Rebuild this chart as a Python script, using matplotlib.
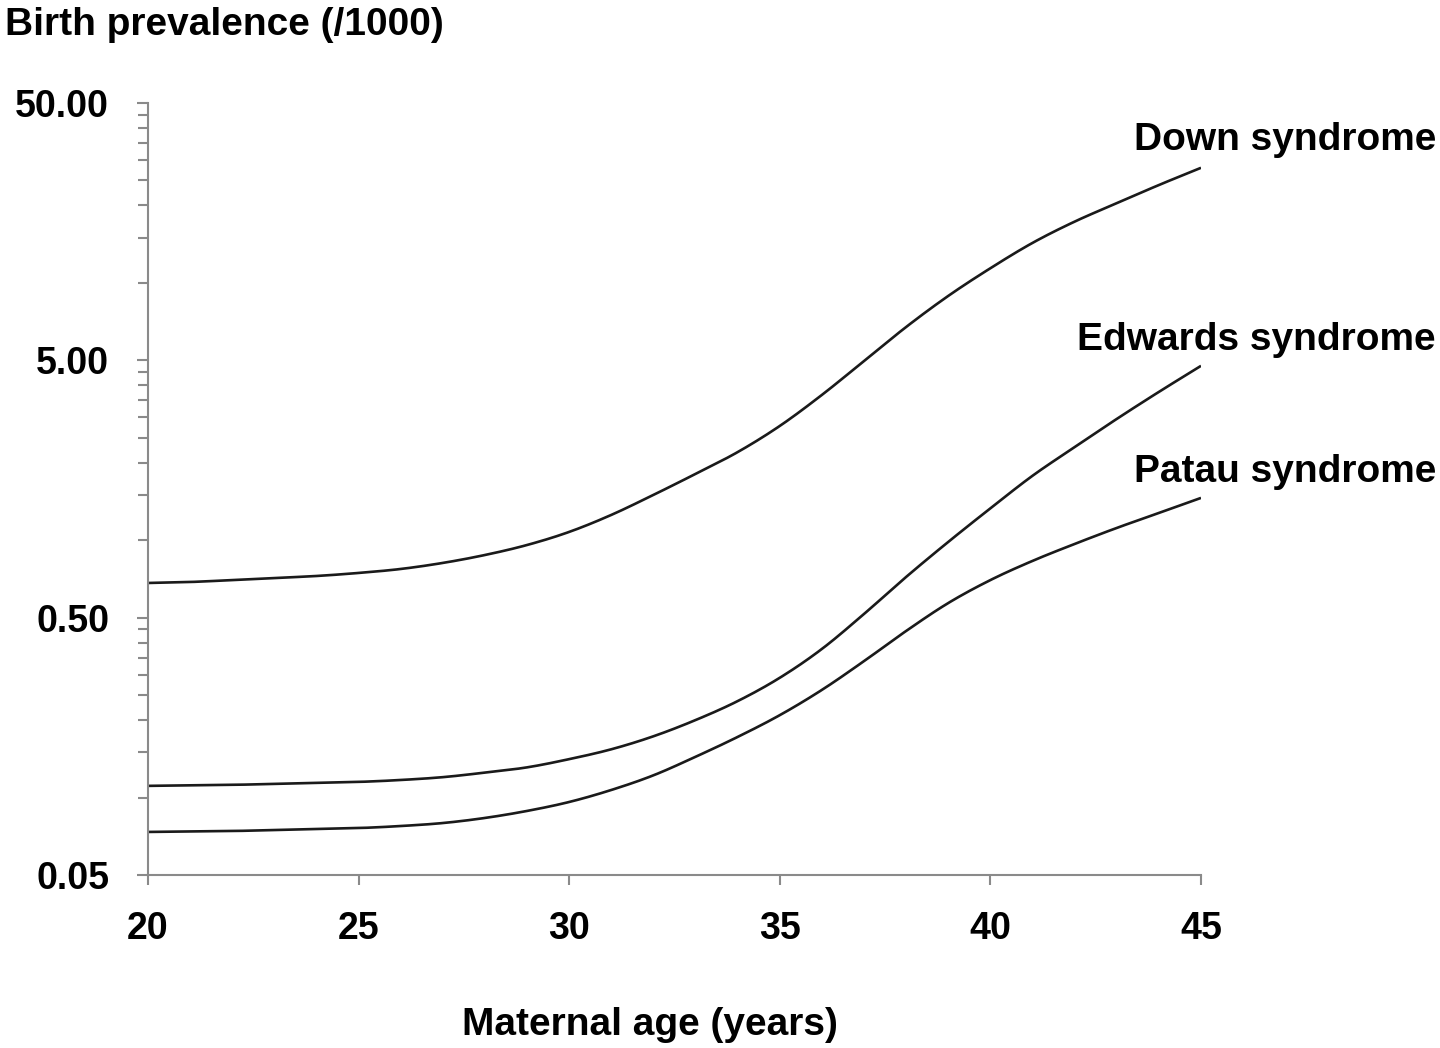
import matplotlib
matplotlib.use("Agg")
import matplotlib.pyplot as plt
import numpy as np
from matplotlib.ticker import FixedLocator, FormatStrFormatter, NullFormatter

plt.rcParams['font.family'] = ['Liberation Sans', 'DejaVu Sans']
plt.rcParams['font.weight'] = 'bold'

# maternal age (years)
age = list(range(20, 46))

# birth prevalence per 1000
down = [0.682, 0.688, 0.700, 0.713, 0.726, 0.746, 0.773, 0.816, 0.876, 0.958,
        1.077, 1.254, 1.50, 1.81, 2.20, 2.78, 3.67, 4.97, 6.74, 8.90,
        11.4, 14.3, 17.3, 20.4, 24.0, 28.0]
edwards = [0.111, 0.1115, 0.112, 0.113, 0.114, 0.115, 0.117, 0.120, 0.125, 0.131,
           0.141, 0.154, 0.173, 0.200, 0.237, 0.292, 0.378, 0.517, 0.720, 0.985,
           1.33, 1.78, 2.30, 2.96, 3.77, 4.76]
patau = [0.0735, 0.0738, 0.0741, 0.0748, 0.0755, 0.0761, 0.0775, 0.0796, 0.0833, 0.0887,
         0.0961, 0.107, 0.122, 0.144, 0.172, 0.209, 0.262, 0.339, 0.444, 0.570,
         0.700, 0.831, 0.967, 1.116, 1.276, 1.46]

series_names = ["Down syndrome", "Edwards syndrome", "Patau syndrome"]
y_ticks = [0.05, 0.5, 5, 50]
x_ticks = [20, 25, 30, 35, 40, 45]


def smooth(xs, ys, n=20):
    # catmull-rom in (x, log y) space, like a spreadsheet "smoothed line"
    x = np.asarray(xs, float)
    y = np.log10(np.asarray(ys, float))
    xp = np.concatenate([[x[0]], x, [x[-1]]])
    yp = np.concatenate([[y[0]], y, [y[-1]]])
    ox, oy = [], []
    t = np.linspace(0, 1, n, endpoint=False)
    for i in range(1, len(xp) - 2):
        for p, out in ((xp, ox), (yp, oy)):
            p0, p1, p2, p3 = p[i-1], p[i], p[i+1], p[i+2]
            m1 = (p2 - p0) / 2
            m2 = (p3 - p1) / 2
            h00 = 2*t**3 - 3*t**2 + 1
            h10 = t**3 - 2*t**2 + t
            h01 = -2*t**3 + 3*t**2
            h11 = t**3 - t**2
            out.extend(h00*p1 + h10*m1 + h01*p2 + h11*m2)
    ox.append(x[-1])
    oy.append(y[-1])
    return np.array(ox), 10 ** np.array(oy)


fig = plt.figure(figsize=(14.4, 10.48), dpi=100)
ax = fig.add_axes([148/1440, 1 - 875/1048, (1201-148)/1440, (875-103)/1048])

for vals in (down, edwards, patau):
    sx, sy = smooth(age, vals)
    ax.plot(sx, sy, color='#1a1a1a', lw=1.9, solid_capstyle='butt')

ax.set_yscale('log')
ax.set_ylim(0.05, 50)
ax.set_xlim(20, 45)
ax.yaxis.set_major_locator(FixedLocator(y_ticks))
ax.yaxis.set_major_formatter(FormatStrFormatter('%.2f'))
minor = [t * k for t in y_ticks[:-1] for k in range(2, 10)]
ax.yaxis.set_minor_locator(FixedLocator(minor))
ax.yaxis.set_minor_formatter(NullFormatter())
ax.set_xticks(x_ticks)

for s in ('top', 'right'):
    ax.spines[s].set_visible(False)
for s in ('left', 'bottom'):
    ax.spines[s].set_color('#8a8a8a')
    ax.spines[s].set_linewidth(1.5)

ax.tick_params(axis='both', which='both', direction='out', color='#8a8a8a', width=1.5)
ax.tick_params(axis='y', which='major', length=8, pad=20, labelsize=27)
ax.tick_params(axis='y', which='minor', length=7)
ax.tick_params(axis='x', which='major', length=7, pad=19, labelsize=27)

fig.text(5/1440, 1 - 35/1048, "Birth prevalence (/1000)", fontsize=28,
         fontweight='bold', ha='left', va='baseline')
fig.text(650/1440, 1 - 1035/1048, "Maternal age (years)", fontsize=28,
         fontweight='bold', ha='center', va='baseline')

label_y = [150, 350, 482]
for name, yy in zip(series_names, label_y):
    fig.text(1436/1440, 1 - yy/1048, name, fontsize=28, fontweight='bold',
             ha='right', va='baseline')

fig.savefig("out.png", dpi=100)
